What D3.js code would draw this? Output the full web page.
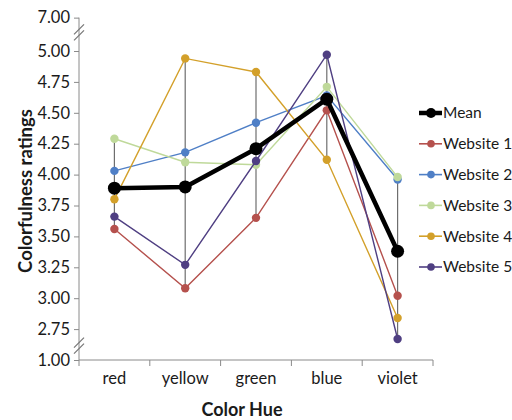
<!DOCTYPE html>
<html>
<head>
<meta charset="utf-8">
<script src="https://cdn.jsdelivr.net/npm/d3@7"></script>
<style>
  body { margin: 0; background: #fff; }
  text { font-family: Lato, "Open Sans", sans-serif; fill: #1a1a1a; }
</style>
</head>
<body>
<div id="chart"></div>
<script>
const hues = ['red', 'yellow', 'green', 'blue', 'violet'];

// values as plotted on the broken axis
const mean = [3.89, 3.90, 4.21, 4.61, 3.38];
const website1 = [3.56, 3.08, 3.65, 4.52, 3.02];
const website2 = [4.03, 4.18, 4.42, 4.64, 3.96];
const website3 = [4.29, 4.10, 4.08, 4.71, 3.98];
const website4 = [3.80, 4.94, 4.83, 4.12, 2.84];
const website5 = [3.66, 3.27, 4.11, 4.97, 2.67];

const seriesNames = ['Mean', 'Website 1', 'Website 2', 'Website 3', 'Website 4', 'Website 5'];
const seriesValues = [mean, website1, website2, website3, website4, website5];
const seriesColors = ['#000000', '#b5514d', '#4f7fc6', '#bfd99a', '#d3a02a', '#4f3f82'];

// tick positions on the plotted scale and the labels shown there
const tickPos = [2.5, 2.75, 3.0, 3.25, 3.5, 3.75, 4.0, 4.25, 4.5, 4.75, 5.0, 5.27];
const tickLabels = ['1.00', '2.75', '3.00', '3.25', '3.50', '3.75', '4.00', '4.25', '4.50', '4.75', '5.00', '7.00'];

const width = 512, height = 420;
const left = 79, right = 433, bottom = 360;

const svg = d3.select('#chart').append('svg')
  .attr('width', width)
  .attr('height', height);

const x = d3.scaleBand()
  .domain(hues)
  .range([left, right])
  .padding(0);

const y = d3.scaleLinear()
  .domain([2.5, 5.0])
  .range([bottom, 51]);

const axisColor = '#8a8a8a';

// y axis
const yAxis = svg.append('g')
  .attr('transform', `translate(${left},0)`)
  .call(d3.axisLeft(y)
    .tickValues(tickPos)
    .tickFormat((d, i) => tickLabels[i])
    .tickSize(5)
    .tickSizeOuter(0)
    .tickPadding(4));
yAxis.select('.domain').attr('stroke', axisColor).attr('d', `M0,${y(5.27)}V${bottom}`);
yAxis.selectAll('.tick line').attr('stroke', axisColor);
yAxis.selectAll('.tick text')
  .style('font-size', '16.5px')
  .attr('fill', '#1a1a1a');

// x axis
const xAxis = svg.append('g')
  .attr('transform', `translate(0,${bottom})`)
  .call(d3.axisBottom(x).tickSize(0).tickPadding(12));
xAxis.select('.domain').attr('stroke', axisColor).attr('d', `M${left},0H${right}`);
xAxis.selectAll('.tick text')
  .style('font-size', '16.5px')
  .attr('fill', '#1a1a1a');
xAxis.selectAll('.sep')
  .data(hues.concat(['end']))
  .join('line')
    .attr('class', 'sep')
    .attr('x1', (d, i) => i < hues.length ? x(d) : x(hues[hues.length - 1]) + x.bandwidth())
    .attr('x2', (d, i) => i < hues.length ? x(d) : x(hues[hues.length - 1]) + x.bandwidth())
    .attr('y1', 0)
    .attr('y2', 6)
    .attr('stroke', axisColor);

// axis break marks
const breaks = [(y(5.27) + y(5.0)) / 2 - 2, (y(2.5) + y(2.75)) / 2 + 1];
breaks.forEach(by => {
  [-3, 3].forEach(off => {
    svg.append('line')
      .attr('x1', left - 5)
      .attr('y1', by + off + 5)
      .attr('x2', left + 5)
      .attr('y2', by + off - 5)
      .attr('stroke', '#777')
      .attr('stroke-width', 1.2);
  });
});

const cx = d => x(d) + x.bandwidth() / 2;

// high-low lines
svg.append('g')
  .selectAll('line')
  .data(hues)
  .join('line')
    .attr('x1', d => cx(d))
    .attr('x2', d => cx(d))
    .attr('y1', (d, i) => y(d3.max(seriesValues, s => s[i])))
    .attr('y2', (d, i) => y(d3.min(seriesValues, s => s[i])))
    .attr('stroke', '#6e6e6e')
    .attr('stroke-width', 1.2);

const line = d3.line()
  .x((d, i) => cx(hues[i]))
  .y(d => y(d));

// draw websites first, mean on top
const order = [1, 2, 3, 4, 5, 0];
order.forEach(k => {
  const isMean = k === 0;
  const g = svg.append('g');
  g.append('path')
    .datum(seriesValues[k])
    .attr('d', line)
    .attr('fill', 'none')
    .attr('stroke', seriesColors[k])
    .attr('stroke-width', isMean ? 4.5 : 1.4);
  g.selectAll('circle')
    .data(seriesValues[k])
    .join('circle')
      .attr('cx', (d, i) => cx(hues[i]))
      .attr('cy', d => y(d))
      .attr('r', isMean ? 6.5 : 4.2)
      .attr('fill', seriesColors[k]);
});

// legend
const legend = svg.append('g')
  .attr('transform', 'translate(419,113)');
const item = legend.selectAll('g')
  .data(seriesNames)
  .join('g')
    .attr('transform', (d, i) => `translate(0,${i * 30.8})`);
item.append('line')
  .attr('x1', 0)
  .attr('x2', 23)
  .attr('stroke', (d, i) => seriesColors[i])
  .attr('stroke-width', (d, i) => i === 0 ? 4.5 : 1.6);
item.append('circle')
  .attr('cx', 12)
  .attr('r', (d, i) => i === 0 ? 5 : 3.8)
  .attr('fill', (d, i) => seriesColors[i]);
item.append('text')
  .attr('x', 24)
  .attr('dy', '0.35em')
  .style('font-size', '15.5px')
  .text(d => d);

// axis titles
svg.append('text')
  .attr('transform', `translate(32,191) rotate(-90)`)
  .attr('text-anchor', 'middle')
  .style('font-size', '18.5px')
  .style('font-weight', 'bold')
  .text('Colorfulness ratings');

svg.append('text')
  .attr('x', (left + right) / 2 - 14)
  .attr('y', 416)
  .attr('text-anchor', 'middle')
  .style('font-size', '18px')
  .style('font-weight', 'bold')
  .text('Color Hue');
</script>
</body>
</html>
